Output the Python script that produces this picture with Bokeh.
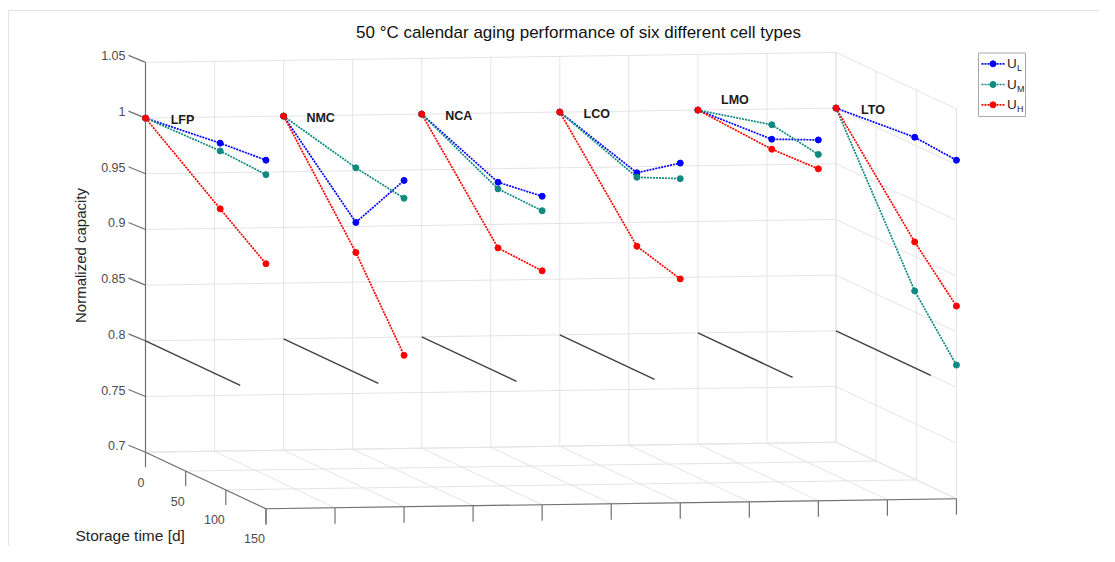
import numpy as np
from bokeh.plotting import figure
from bokeh.models import Range1d
from bokeh.core.properties import value
from bokeh.embed import file_html
from bokeh.resources import INLINE

# ---------------- data ----------------
cells = ["LFP", "NMC", "NCA", "LCO", "LMO", "LTO"]
storage_days = [[0, 93, 150], [0, 90, 150], [0, 95, 150],
                [0, 96, 150], [0, 92, 150], [0, 98, 150]]
cap_UL = [[1.0, 1.009, 1.013], [1.0, 0.935, 0.993], [1.0, 0.971, 0.977],
          [1.0, 0.978, 1.005], [1.0, 1.005, 1.024], [1.0, 1.007, 1.004]]
cap_UM = [[1.0, 1.002, 1.000], [1.0, 0.984, 0.977], [1.0, 0.965, 0.964],
          [1.0, 0.974, 0.991], [1.0, 1.018, 1.011], [1.0, 0.869, 0.820]]
cap_UH = [[1.0, 0.950, 0.920], [1.0, 0.908, 0.836], [1.0, 0.912, 0.910],
          [1.0, 0.912, 0.901], [1.0, 0.996, 0.998], [1.0, 0.913, 0.873]]
series_sub = ["L", "M", "H"]
eol_level = 0.8
eol_days = 118
z_ticks = [0.7, 0.75, 0.8, 0.85, 0.9, 0.95, 1.0, 1.05]
z_tick_labels = ["0.7", "0.75", "0.8", "0.85", "0.9", "0.95", "1", "1.05"]
t_ticks = [0, 50, 100, 150]
t_tick_labels = ["0", "50", "100", "150"]
x_ticks = [1, 1.5, 2, 2.5, 3, 3.5, 4, 4.5, 5, 5.5, 6]
title_text = "50 \u00b0C calendar aging performance of six different cell types"
zlabel_text = "Normalized capacity"
tlabel_text = "Storage time [d]"

# ---------------- projection (orthographic 3D view) ----------------
X0, Y0 = 145.0, 451.7
EX = (138.1, -2.0)     # per unit of cell axis
ET = (0.803, 0.377)    # per day
EZ = 1113.7            # per unit capacity
ZMIN, ZMAX = z_ticks[0], z_ticks[-1]
XMIN, XMAX = x_ticks[0], x_ticks[-1]
TMIN, TMAX = t_ticks[0], t_ticks[-1]


def P(c, t, z):
    sx = X0 + (c - 1) * EX[0] + t * ET[0]
    sy = Y0 + (c - 1) * EX[1] + t * ET[1] - (z - ZMIN) * EZ
    return sx, -sy


def seg(a, b):
    (x1, y1), (x2, y2) = P(*a), P(*b)
    return [x1, x2], [y1, y2]


FONT = value("Liberation Sans")

p = figure(width=1099, height=546, x_range=Range1d(0, 1099), y_range=Range1d(-546, 0),
           output_backend="svg", toolbar_location=None, min_border=0,
           x_axis_type=None, y_axis_type=None)
p.grid.visible = False
p.outline_line_color = None
p.background_fill_color = "white"
p.border_fill_color = "white"

# light frame around the figure area
p.quad(left=[8], right=[1107], top=[-10], bottom=[-620], fill_color=None,
       line_color="#e4e4e4", line_width=1)

# ---------------- grid on back planes ----------------
gx, gy = [], []
for xv in x_ticks:
    a, b = seg((xv, TMIN, ZMIN), (xv, TMIN, ZMAX)); gx.append(a); gy.append(b)
    a, b = seg((xv, TMIN, ZMIN), (xv, TMAX, ZMIN)); gx.append(a); gy.append(b)
for zv in z_ticks:
    a, b = seg((XMIN, TMIN, zv), (XMAX, TMIN, zv)); gx.append(a); gy.append(b)
    a, b = seg((XMAX, TMIN, zv), (XMAX, TMAX, zv)); gx.append(a); gy.append(b)
for tv in t_ticks:
    a, b = seg((XMAX, tv, ZMIN), (XMAX, tv, ZMAX)); gx.append(a); gy.append(b)
    a, b = seg((XMIN, tv, ZMIN), (XMAX, tv, ZMIN)); gx.append(a); gy.append(b)
p.multi_line(gx, gy, line_color="#e4e4e4", line_width=1)

# ---------------- axes ----------------
AX = "#707070"
ax_x, ax_y = [], []
for a3, b3 in [((XMIN, TMIN, ZMIN), (XMIN, TMIN, ZMAX)),
               ((XMIN, TMIN, ZMIN), (XMIN, TMAX, ZMIN)),
               ((XMIN, TMAX, ZMIN), (XMAX, TMAX, ZMIN))]:
    a, b = seg(a3, b3); ax_x.append(a); ax_y.append(b)
# z ticks
zl_x, zl_y = [], []
for zv in z_ticks:
    x, y = P(XMIN, TMIN, zv)
    ax_x.append([x, x - 17]); ax_y.append([y, y + 7])
    zl_x.append(x - 20); zl_y.append(y + 6.5)
# time ticks
tl_x, tl_y = [], []
for tv in t_ticks:
    x, y = P(XMIN, tv, ZMIN)
    ax_x.append([x, x]); ax_y.append([y, y - 15])
    tl_x.append(x - 1); tl_y.append(y - 30)
# cell-axis ticks
for xv in x_ticks:
    x, y = P(xv, TMAX, ZMIN)
    ax_x.append([x, x]); ax_y.append([y, y - 16])
p.multi_line(ax_x, ax_y, line_color=AX, line_width=1.2)

p.text(x=zl_x, y=zl_y, text=z_tick_labels, text_font=FONT, text_font_size=value("12.5px"),
       text_color="#4d4d4d", text_align="right", text_baseline="middle")
p.text(x=tl_x, y=tl_y, text=t_tick_labels, text_font=FONT, text_font_size=value("12.5px"),
       text_color="#4d4d4d", text_align="right", text_baseline="middle")

# axis labels and title
p.text(x=[80], y=[-255], text=[zlabel_text], angle=np.pi / 2, text_font=FONT,
       text_font_size=value("15px"), text_color="#262626", text_align="center",
       text_baseline="middle")
p.text(x=[75], y=[-535], text=[tlabel_text], text_font=FONT,
       text_font_size=value("15.5px"), text_color="#262626", text_align="left",
       text_baseline="middle")
p.text(x=[578], y=[-32], text=[title_text], text_font=FONT,
       text_font_size=value("17px"), text_color="#111111", text_align="center",
       text_baseline="middle")

# ---------------- 80 % EOL reference lines ----------------
ex_, ey_ = [], []
for i in range(len(cells)):
    a, b = seg((i + 1, 0, eol_level), (i + 1, eol_days, eol_level))
    ex_.append(a); ey_.append(b)
p.multi_line(ex_, ey_, line_color="#404040", line_width=1.4)

# ---------------- data ----------------
colors = ["#0000ff", "#0e8a80", "#ff0000"]
for caps, col in zip([cap_UL, cap_UM, cap_UH], colors):
    xs, ys, px, py = [], [], [], []
    for i in range(len(cells)):
        pts = [P(i + 1, t, z) for t, z in zip(storage_days[i], caps[i])]
        xs.append([q[0] for q in pts]); ys.append([q[1] for q in pts])
        px += xs[-1]; py += ys[-1]
    p.multi_line(xs, ys, line_color=col, line_width=1.7, line_dash="2 1")
    p.scatter(px, py, size=6, color=col)

# cell-type labels
label_lift = {"LMO": 0.011}
lx, ly = [], []
for i, name in enumerate(cells):
    x, y = P(i + 1 + 0.268, 0, 0.998 + label_lift.get(name, 0.0))
    lx.append(x); ly.append(y)
p.text(x=lx, y=ly, text=cells, text_font=FONT, text_font_size=value("12.5px"),
       text_font_style="bold", text_color="#1a1a1a", text_align="center",
       text_baseline="middle")

# ---------------- legend ----------------
p.quad(left=[978], right=[1025], top=[-52.5], bottom=[-116], fill_color="white",
       line_color="#a8a8a8", line_width=1)
row_y = [-63.3, -84, -104.3]
for col, ry, sub in zip(colors, row_y, series_sub):
    p.line([981, 1004], [ry, ry], line_color=col, line_width=1.7, line_dash="2 1")
    p.scatter([992.5], [ry], size=6, color=col)
    p.text(x=[1006.5], y=[ry + 0.5], text=["U"], text_font=FONT,
           text_font_size=value("13.5px"), text_color="#262626", text_align="left",
           text_baseline="middle")
    p.text(x=[1016.5], y=[ry - 4.5], text=[sub], text_font=FONT,
           text_font_size=value("9px"), text_color="#262626", text_align="left",
           text_baseline="middle")

open("out.html", "w").write(file_html(p, INLINE))
